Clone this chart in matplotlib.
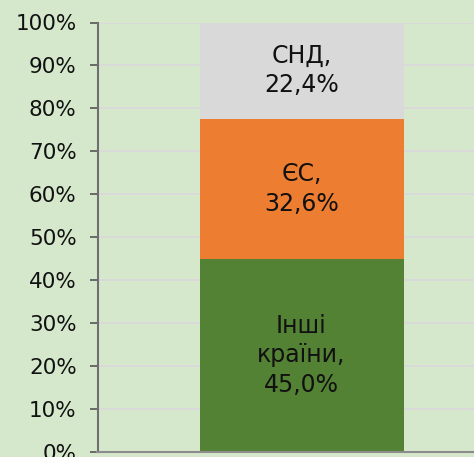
import matplotlib
matplotlib.use("Agg")
import matplotlib.pyplot as plt
from matplotlib.ticker import PercentFormatter

# shares of trade, percent
segments = ["Інші\nкраїни,\n45,0%", "ЄС,\n32,6%", "СНД,\n22,4%"]
values = [45.0, 32.6, 22.4]
colors = ["#548235", "#ED7D31", "#D9D9D9"]
yticks = list(range(0, 101, 10))

bg = "#D5E8CB"
fig = plt.figure(figsize=(4.74, 4.57), dpi=100, facecolor=bg)
ax = fig.add_axes([97.5 / 474, 5 / 457, 408 / 474, 429.5 / 457], facecolor=bg)

bottom = 0
for label, val, col in zip(segments, values, colors):
    ax.bar(0, val, width=0.5, bottom=bottom, color=col, zorder=2)
    ax.text(0, bottom + val / 2, label, ha="center", va="center",
            fontsize=17, color="#111111", linespacing=1.3, zorder=3)
    bottom += val

ax.set_xlim(-0.5, 0.5)
ax.set_ylim(0, 100)
ax.set_yticks(yticks)
ax.yaxis.set_major_formatter(PercentFormatter(decimals=0))
ax.set_xticks([])
ax.tick_params(axis="y", labelsize=15.5, length=6, width=1.2, color="#555555",
               pad=9, labelcolor="#111111")
ax.grid(axis="y", color="#D9D9D9", linewidth=1.4, zorder=0)
ax.set_axisbelow(True)

for s in ["top", "right"]:
    ax.spines[s].set_visible(False)
ax.spines["left"].set_color("#6F6F6F")
ax.spines["left"].set_linewidth(1.5)
ax.spines["bottom"].set_color("#8C8C8C")
ax.spines["bottom"].set_linewidth(1.5)

fig.savefig("out.png", dpi=100, facecolor=bg)
